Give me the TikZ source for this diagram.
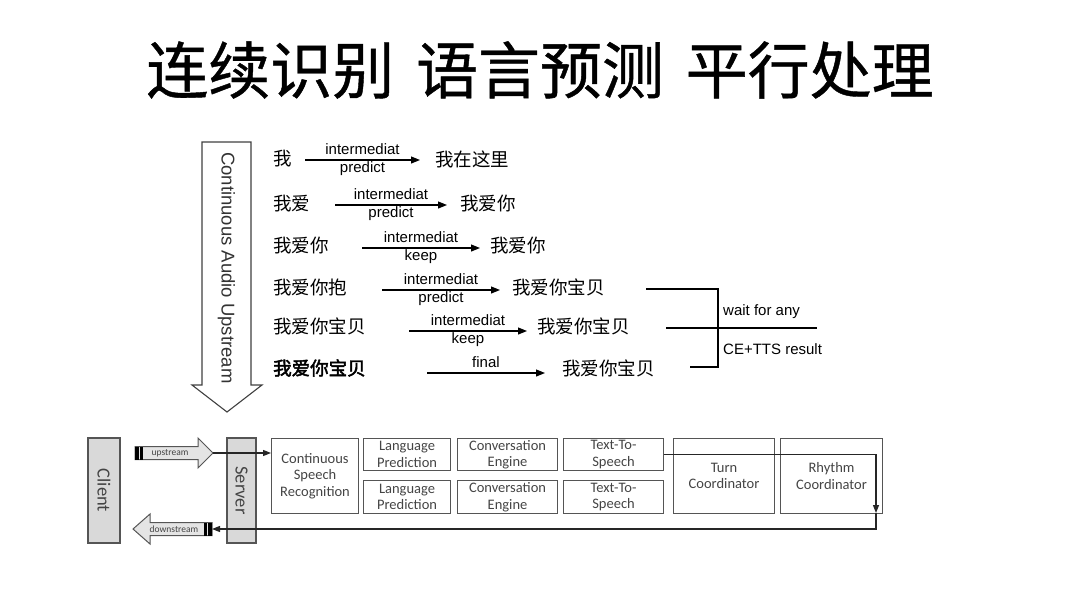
\documentclass[tikz,border=0pt]{standalone}
\usepackage{fontspec}
\setmainfont{Liberation Sans}
\newfontfamily\cjk{Noto Sans CJK SC}
\newfontfamily\cjkt[FakeBold=0.7]{Noto Sans CJK SC}
\newfontfamily\cjkb[FakeBold=2.5]{Noto Sans CJK SC}
\newfontfamily\calf{Carlito}
\usetikzlibrary{arrows.meta}
\definecolor{boxline}{HTML}{555555}
\definecolor{boxtext}{HTML}{444444}
\definecolor{grayfill}{HTML}{D9D9D9}
\definecolor{arrfill}{HTML}{E4E4E4}
\begin{document}
\begin{tikzpicture}[x=1pt,y=-1pt,
  cn/.style={inner sep=0pt, anchor=west, font=\cjk\fontsize{18.5}{20}\selectfont},
  lbl/.style={inner sep=1pt, font=\fontsize{15}{16}\selectfont},
  rowarrow/.style={line width=1.1pt, -{Triangle[length=9pt,width=7pt]}},
  br/.style={line width=1.1pt},
  pbox/.style={draw=boxline, line width=1.1pt, anchor=north west, inner sep=1pt, align=center,
     text=boxtext, font=\calf\fontsize{14.5}{16.5}\selectfont},
  gbox/.style={draw=boxline, fill=grayfill, line width=1.1pt, rotate=-90, inner sep=0pt,
     text=boxtext, font=\calf\fontsize{18.5}{18}\selectfont},
  blk/.style={draw=boxline, fill=arrfill, line width=1pt},
  conn/.style={line width=1.3pt, draw=black!85},
  tip/.style={-{Triangle[length=8pt,width=6pt]}}
]
\useasboundingbox (0,0) rectangle (1080,608);

% title
\node (title) at (540,70) {\cjkt\fontsize{62}{64}\selectfont 连续识别\hspace{0.35em}语言预测\hspace{0.35em}平行处理};

% big down arrow
\draw[line width=1.1pt, draw=black!75, fill=white] (202,142) -- (251,142) -- (251,385) -- (262,385) -- (227,412) -- (192,385) -- (202,385) -- cycle;
\node[rotate=-90, anchor=west, inner sep=0pt, font=\fontsize{18.5}{19}\selectfont, text=black!80] (cau) at (226.5,152) {Continuous Audio Upstream};

% rows
\node[cn] (s1) at (273,159) {我};
\node[cn] (r1) at (435,159) {我在这里};
\coordinate (a1) at (305,160); \coordinate (b1) at (420,160);
\draw[rowarrow] (a1) -- (b1) node[lbl, midway, above=3.5pt] {intermediat} node[lbl, midway, below] {predict};

\node[cn] (s2) at (273,204) {我爱};
\node[cn] (r2) at (460,204) {我爱你};
\coordinate (a2) at (335,205); \coordinate (b2) at (447,205);
\draw[rowarrow] (a2) -- (b2) node[lbl, midway, above=3.5pt] {intermediat} node[lbl, midway, below] {predict};

\node[cn] (s3) at (273,246) {我爱你};
\node[cn] (r3) at (490,246) {我爱你};
\coordinate (a3) at (362,248); \coordinate (b3) at (480,248);
\draw[rowarrow] (a3) -- (b3) node[lbl, midway, above=3.5pt] {intermediat} node[lbl, midway, below] {keep};

\node[cn] (s4) at (273,287) {我爱你抱};
\node[cn] (r4) at (512,287) {我爱你宝贝};
\coordinate (a4) at (382,290); \coordinate (b4) at (500,290);
\draw[rowarrow] (a4) -- (b4) node[lbl, midway, above=3.5pt] {intermediat} node[lbl, midway, below] {predict};

\node[cn] (s5) at (273,326) {我爱你宝贝};
\node[cn] (r5) at (537,326) {我爱你宝贝};
\coordinate (a5) at (409,331); \coordinate (b5) at (527,331);
\draw[rowarrow] (a5) -- (b5) node[lbl, midway, above=3.5pt] {intermediat} node[lbl, midway, below] {keep};

\node[cn, font=\cjkb\fontsize{18.5}{20}\selectfont] (s6) at (273,368) {我爱你宝贝};
\node[cn] (r6) at (562,368) {我爱你宝贝};
\coordinate (a6) at (427,373); \coordinate (b6) at (545,373);
\draw[rowarrow] (a6) -- (b6) node[lbl, midway, above=3.5pt] {final};

% bracket
\coordinate (k1) at (646,289); \coordinate (k2) at (718,289);
\coordinate (k3) at (718,367); \coordinate (k4) at (690,367);
\coordinate (m1) at (666,328); \coordinate (m2) at (817,328);
\draw[br] (k1) -- (k2) -- (k3) -- (k4);
\draw[br] (m1) -- (m2);
\node[lbl, anchor=west] (wfa) at (722,312) {wait for any};
\node[lbl, anchor=west] (cet) at (722,349) {CE+TTS result};

% bottom: client / server
\node[gbox, minimum width=105pt, minimum height=32pt] (client) at (104,490.5) {Client};
\node[gbox, minimum width=105pt, minimum height=29pt] (server) at (241.5,490.5) {Server};

% upstream block arrow
\draw[blk] (135,446.5) -- (198,446.5) -- (198,438) -- (213,453) -- (198,468) -- (198,459.5) -- (135,459.5) -- cycle;
\fill[black] (135,446.5) rectangle (138.5,459.5);
\fill[black] (140,446.5) rectangle (142.5,459.5);
\node[inner sep=0pt, text=boxtext, font=\calf\fontsize{9.5}{10}\selectfont] (upl) at (170,453) {upstream};
\coordinate (uptip) at (213,453);

% downstream block arrow
\draw[blk] (212,522.5) -- (150,522.5) -- (150,514) -- (133,529) -- (150,544) -- (150,535.5) -- (212,535.5) -- cycle;
\fill[black] (204,522.5) rectangle (206.5,535.5);
\fill[black] (208,522.5) rectangle (212,535.5);
\node[inner sep=0pt, text=boxtext, font=\calf\fontsize{9.5}{10}\selectfont] (dnl) at (174,529) {downstream};
\coordinate (dntail) at (212,529);

% process boxes
\node[pbox, minimum width=87pt, minimum height=75pt] (csr) at (271,438) {Continuous\\Speech\\Recognition};
\node[pbox, minimum width=87pt, minimum height=32pt] (lp1) at (363,438) {Language\\Prediction};
\node[pbox, minimum width=87pt, minimum height=33pt] (lp2) at (363,480) {Language\\Prediction};
\node[pbox, minimum width=100pt, minimum height=32pt] (ce1) at (457,438) {Conversation\\Engine};
\node[pbox, minimum width=100pt, minimum height=33pt] (ce2) at (457,480) {Conversation\\Engine};
\node[pbox, minimum width=100pt, minimum height=32pt] (tts1) at (563,438) {Text-To-\\Speech};
\node[pbox, minimum width=100pt, minimum height=33pt] (tts2) at (563,480) {Text-To-\\Speech};
\node[pbox, minimum width=101pt, minimum height=75pt] (turn) at (673,438) {Turn\\Coordinator};
\node[pbox, minimum width=102pt, minimum height=75pt] (rhy) at (780,438) {Rhythm\\Coordinator};

% connectors
\draw[conn, tip] (uptip) -- (uptip -| csr.west);
\coordinate (rc) at (876,513);
\draw[conn, tip] (tts1.east) -| (rc);
\draw[conn, tip] (rc) |- (dntail);
\end{tikzpicture}
\end{document}
